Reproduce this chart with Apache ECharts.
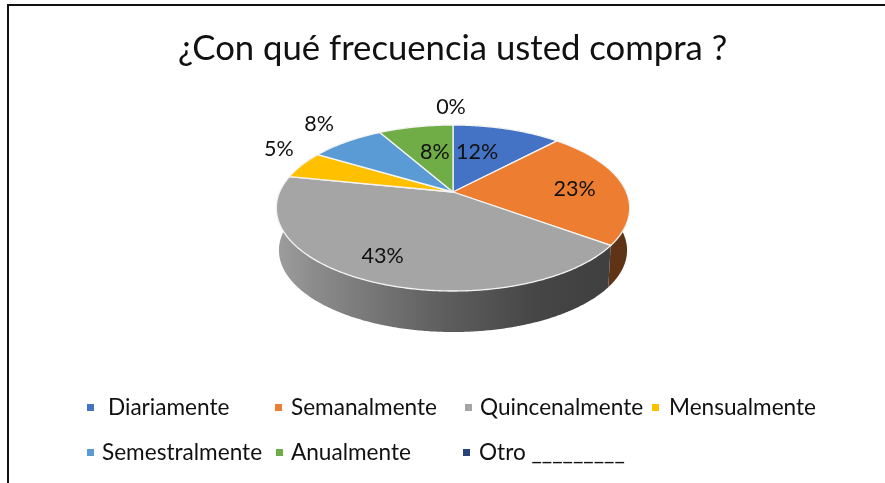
<!DOCTYPE html>
<html><head><meta charset="utf-8">
<style>html,body{margin:0;padding:0;background:#fff}#c{width:885px;height:483px}</style>
<script src="https://cdn.jsdelivr.net/npm/echarts@6/dist/echarts.min.js"></script>
</head><body><div id="c"></div>
<script>
const titleText = '¿Con qué frecuencia usted compra ?';
const categories = ['Diariamente','Semanalmente','Quincenalmente','Mensualmente','Semestralmente','Anualmente','Otro _________'];
const legendTexts = [' Diariamente','Semanalmente','Quincenalmente','Mensualmente','Semestralmente','Anualmente','Otro _________'];
const values = [12, 23.1, 43.1, 5.4, 8.2, 8.2, 0];
const colors = ['#4472C4','#ED7D31','#A5A5A5','#FFC000','#5B9BD5','#70AD47','#264478'];
const wallColors = ['#2a4475','#5f3315',null,'#997300','#376092','#436a2b','#172a4a'];

// layout only
const FONT = 'Lato';
const C = {x:453, y:192, a:173.4, b:79.9, k:0.193, dy:42.5, shrink:0.985};
const labelShift = [[-30,23],[-48,4],[15,-25],[-23,-16],[-27.5,-18],[19,25],[-2,-18]];
const legendPos = [[87,396,14],[275,396,9],[465,396,8],[652,396,10],[87,441,8],[276,441,8],[463,441,9]];

const total = values.reduce((s,v)=>s+v,0);
const starts = []; values.reduce((s,v,i)=>{starts[i]=s;return s+v;},0);
const angle = v => v/total*2*Math.PI;
function rim(t, lower){
  const u=Math.sin(t), v=-Math.cos(t), d=1-C.k*v, s=lower?C.shrink:1;
  return [C.x+s*C.a*u/d, C.y+(lower?C.dy:0)+s*C.b*v/d];
}
function arc(i, lower){
  const t0=angle(starts[i]), t1=angle(starts[i]+values[i]), pts=[];
  const n=Math.max(1,Math.ceil((t1-t0)/0.01));
  for(let j=0;j<=n;j++) pts.push(rim(t0+(t1-t0)*j/n, lower));
  return pts;
}
const grayWall = new echarts.graphic.LinearGradient(280,0,606,0,[
  {offset:0,color:'#9c9c9c'},{offset:0.1,color:'#8c8c8c'},{offset:0.5,color:'#5e5e5e'},{offset:0.8,color:'#454545'},{offset:1,color:'#404040'}],true);

const series=[];
categories.forEach((name,i)=>{
  series.push({type:'custom',name:'wall'+i,coordinateSystem:'none',silent:true,z:1,data:[[values[i]]],
    renderItem(){
      if(!values[i]) return {type:'group',children:[]};
      return {type:'polygon',shape:{points:arc(i,false).concat(arc(i,true).reverse())},
        style:{fill:wallColors[i]||grayWall,stroke:'#b5b5b5',lineWidth:0}};
    }});
});
categories.forEach((name,i)=>{
  series.push({type:'custom',name:name,coordinateSystem:'none',silent:true,z:2,data:[[values[i]]],
    itemStyle:{color:colors[i]},
    renderItem(){
      if(!values[i]) return {type:'group',children:[]};
      return {type:'polygon',shape:{points:[[C.x,C.y]].concat(arc(i,false))},
        style:{fill:colors[i],stroke:'#f4f4f4',lineWidth:1.3,lineJoin:'round'}};
    }});
});
series.push({type:'custom',name:'labels',coordinateSystem:'none',silent:true,z:3,data:values.map(v=>[v]),
  renderItem(p){
    const i=p.dataIndex, m=rim(angle(starts[i]+values[i]/2),false);
    return {type:'text',style:{text:Math.round(values[i]/total*100)+'%',x:m[0]+labelShift[i][0],y:m[1]+labelShift[i][1],
      textAlign:'center',textVerticalAlign:'middle',font:'21.5px '+FONT,fill:'#111'}};
  }});

const chart=echarts.init(document.getElementById('c'));
chart.setOption({
  animation:false,backgroundColor:'#fff',
  title:{text:titleText,left:178,top:31,textStyle:{fontFamily:FONT,fontSize:34.7,fontWeight:'normal',color:'#111'},padding:0},
  legend:categories.map((name,i)=>({
    data:[name],left:legendPos[i][0],top:legendPos[i][1],padding:0,itemWidth:7,itemHeight:7,itemGap:0,
    selectedMode:false,icon:'rect',
    formatter:()=>legendTexts[i].trim(),
    textStyle:{fontFamily:FONT,fontSize:22.6,color:'#111',padding:[0,0,0,legendPos[i][2]-5]}
  })),
  graphic:[
    {type:'line',shape:{x1:7,y1:5,x2:885,y2:5},style:{stroke:'#111',lineWidth:2}},
    {type:'line',shape:{x1:8,y1:5,x2:8,y2:483},style:{stroke:'#111',lineWidth:2}}
  ],
  series
});
</script></body></html>
